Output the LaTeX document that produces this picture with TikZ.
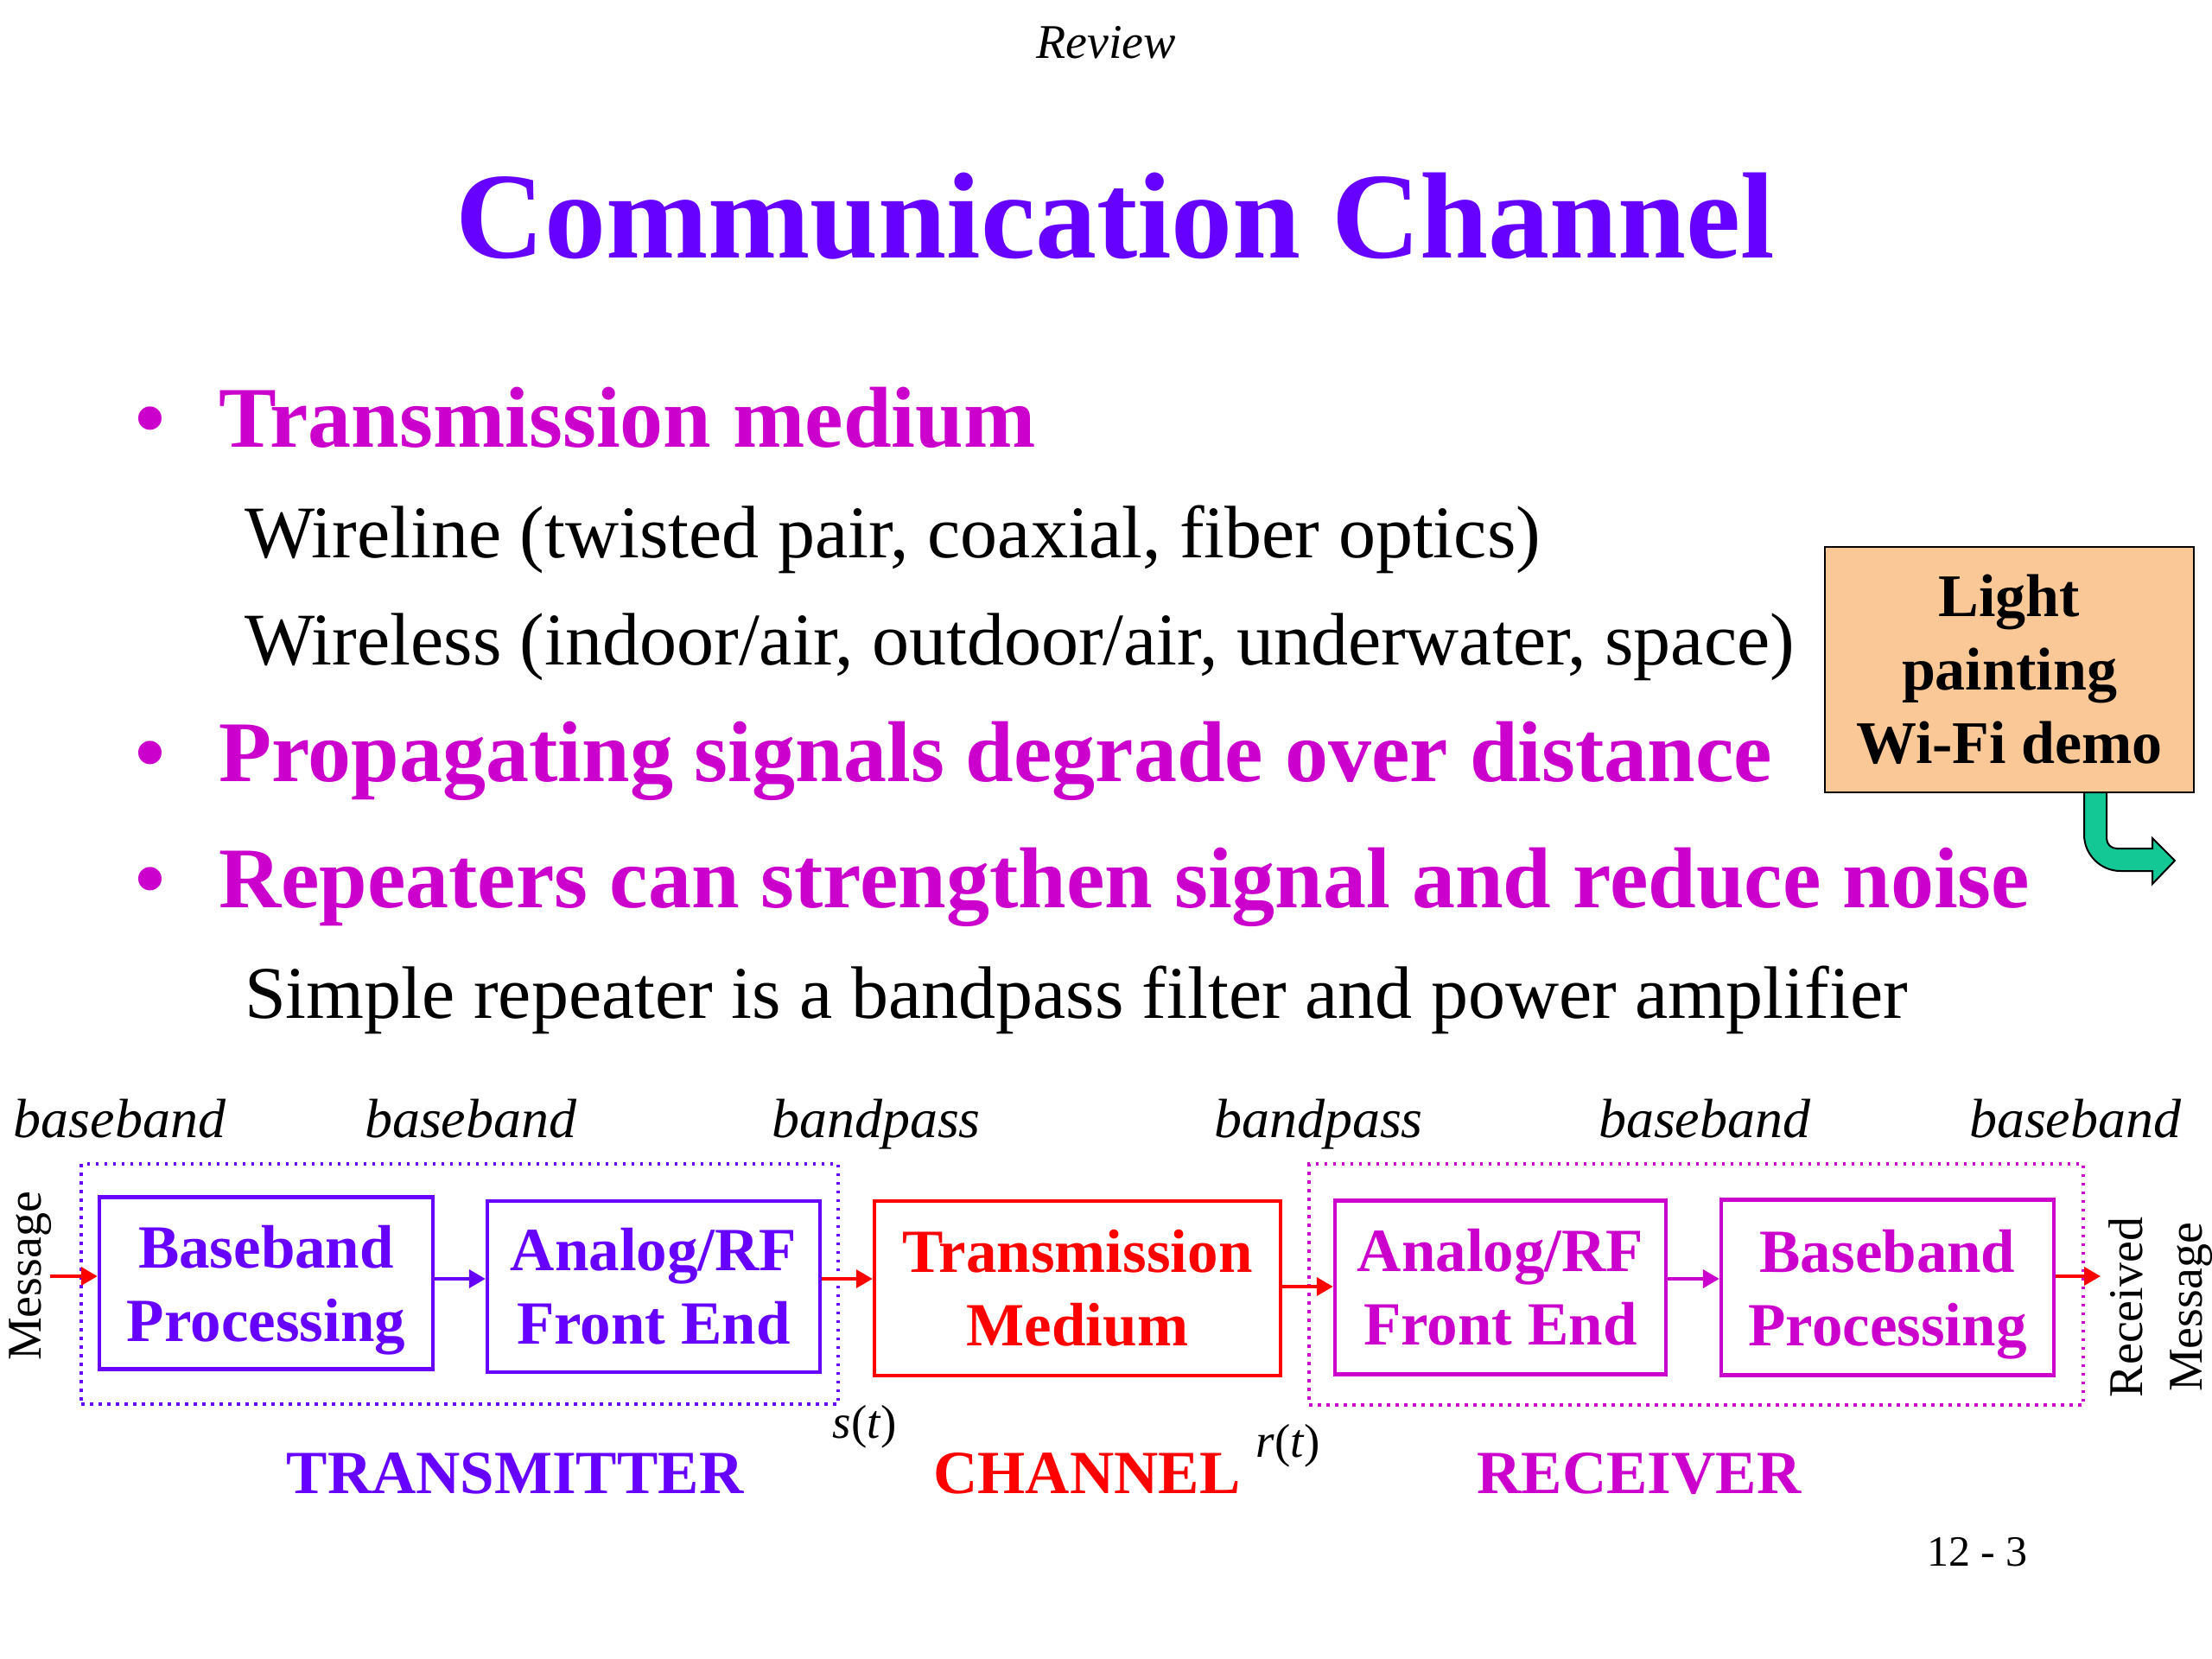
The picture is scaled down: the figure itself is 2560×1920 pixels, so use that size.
\documentclass[tikz,border=0pt]{standalone}
\usepackage{fontspec}
\setmainfont{Liberation Serif}
\usetikzlibrary{arrows.meta}
\definecolor{violetc}{RGB}{102,0,255}
\definecolor{magc}{RGB}{204,0,204}
\definecolor{redc}{RGB}{255,0,0}
\definecolor{peach}{RGB}{250,200,150}
\definecolor{tealc}{RGB}{20,200,150}
\newcommand{\myfs}[2]{\fontsize{#1}{#2}\selectfont}
\begin{document}
\begin{tikzpicture}[x=1pt,y=-1pt,
  txt/.style={inner sep=0pt, outer sep=0pt},
  bul/.style={txt, anchor=base, text=magc, font={\myfs{100}{120}\bfseries}},
  head/.style={txt, anchor=base west, text=magc, font={\myfs{100}{120}\bfseries}},
  body/.style={txt, anchor=base west, font={\myfs{86}{103}}},
  blk/.style={draw, line width=4.5pt, inner sep=0pt, align=center, font={\myfs{71}{85}\bfseries}},
  dotbox/.style={draw, line width=3.5pt, dash pattern=on 3.5pt off 6.5pt, inner sep=0pt},
  arr/.style={line width=4pt, -{Triangle[length=19pt,width=21pt]}},
  lab/.style={txt, anchor=base west, font={\myfs{64}{76}\itshape}},
  sec/.style={txt, anchor=base, font={\myfs{71}{85}\bfseries}},
]
\useasboundingbox (0,0) rectangle (2560,1920);

% header
\node[txt, anchor=base, font={\myfs{56}{67}\itshape}] (review) at (1280,67) {Review};
\node[txt, anchor=base, text=violetc, font={\myfs{142}{170}\bfseries}] (title) at (1291,298) {Communication Channel};

% bullets
\node[bul] (b1) at (174,517) {\textbullet};
\node[head] (h1) at (253,517) {Transmission medium};
\node[body] (t1) at (283,645) {Wireline (twisted pair, coaxial, fiber optics)};
\node[body] (t2) at (283,769) {Wireless (indoor/air, outdoor/air, underwater, space)};
\node[bul] (b2) at (174,904) {\textbullet};
\node[head] (h2) at (253,904) {Propagating signals degrade over distance};
\node[bul] (b3) at (174,1050) {\textbullet};
\node[head] (h3) at (253,1050) {Repeaters can strengthen signal and reduce noise};
\node[body] (t3) at (283,1178) {Simple repeater is a bandpass filter and power amplifier};

% demo box with bent arrow
\filldraw[fill=tealc, draw=black, line width=2pt]
  (2412,917) -- (2412,966) .. controls (2412,989) and (2431,1008) .. (2454,1008)
  -- (2491,1008) -- (2491,1023) -- (2517,996) -- (2491,970) -- (2491,982)
  -- (2450,982) .. controls (2443,982) and (2438,977) .. (2438,970)
  -- (2438,917) -- cycle;
\node[draw=black, fill=peach, line width=2.5pt, minimum width=427pt, minimum height=284pt,
  inner sep=0pt, align=center, font={\myfs{70}{85}\bfseries}] (demo) at (2325.5,775)
  {Light\\painting\\Wi-Fi demo};

% block diagram labels
\node[lab] (lb1) at (16,1316) {baseband};
\node[lab] (lb2) at (422,1316) {baseband};
\node[lab] (lb3) at (893,1316) {bandpass};
\node[lab] (lb4) at (1405,1316) {bandpass};
\node[lab] (lb5) at (1850,1316) {baseband};
\node[lab] (lb6) at (2279,1316) {baseband};

% groups
\node[dotbox, draw=violetc, minimum width=876pt, minimum height=278pt] (txgrp) at (532,1486) {};
\node[dotbox, draw=magc, minimum width=896pt, minimum height=279pt] (rxgrp) at (1963,1486.5) {};

% blocks
\node[blk, draw=violetc, text=violetc, minimum width=386pt, minimum height=199pt] (txbp) at (308,1485) {Baseband\\\smash{Processing}};
\node[blk, draw=violetc, text=violetc, minimum width=385pt, minimum height=198pt] (txfe) at (756.5,1489) {Analog/RF\\Front End};
\node[blk, draw=redc, text=redc, minimum width=470pt, minimum height=202pt] (chan) at (1247,1491) {Transmission\\Medium};
\node[blk, draw=magc, text=magc, minimum width=383pt, minimum height=201pt] (rxfe) at (1736.5,1490) {Analog/RF\\Front End};
\node[blk, draw=magc, text=magc, minimum width=385pt, minimum height=203pt] (rxbp) at (2184.5,1490) {Baseband\\\smash{Processing}};

% connectors
\coordinate (yb) at (0,1480);
\coordinate (yc) at (0,1489);
\coordinate (msgin) at (58,1477);
\coordinate (msgout) at (2431,1477);
\draw[arr, redc] (msgin) -- (txbp.west |- msgin);
\draw[arr, violetc] (txbp.east |- yb) -- (txfe.west |- yb);
\draw[arr, redc] (txfe.east |- yb) -- (chan.west |- yb);
\draw[arr, redc] (chan.east |- yc) -- (rxfe.west |- yc);
\draw[arr, magc] (rxfe.east |- yb) -- (rxbp.west |- yb);
\draw[arr, redc] (rxbp.east |- msgout) -- (msgout);

% side texts
\node[txt, rotate=90, anchor=base, font={\myfs{56}{67}}] (msg) at (47,1477) {Message};
\node[txt, rotate=90, align=center, font={\myfs{56}{69}}] (rxmsg) at (2500.5,1513) {Received\\Message};
\node[txt, anchor=base, font={\myfs{55}{66}}] (st) at (1001,1664) {\textit{s}(\textit{t})};
\node[txt, anchor=base, font={\myfs{55}{66}}] (rt) at (1491,1686) {\textit{r}(\textit{t})};

% section names
\node[sec, text=violetc] (sectx) at (596,1728) {TRANSMITTER};
\node[sec, text=redc] (secch) at (1258,1728) {CHANNEL};
\node[sec, text=magc] (secrx) at (1897,1728) {RECEIVER};

% page number
\node[txt, anchor=base west, font={\myfs{50}{60}}] (pg) at (2230,1812) {12 - 3};
\end{tikzpicture}
\end{document}
